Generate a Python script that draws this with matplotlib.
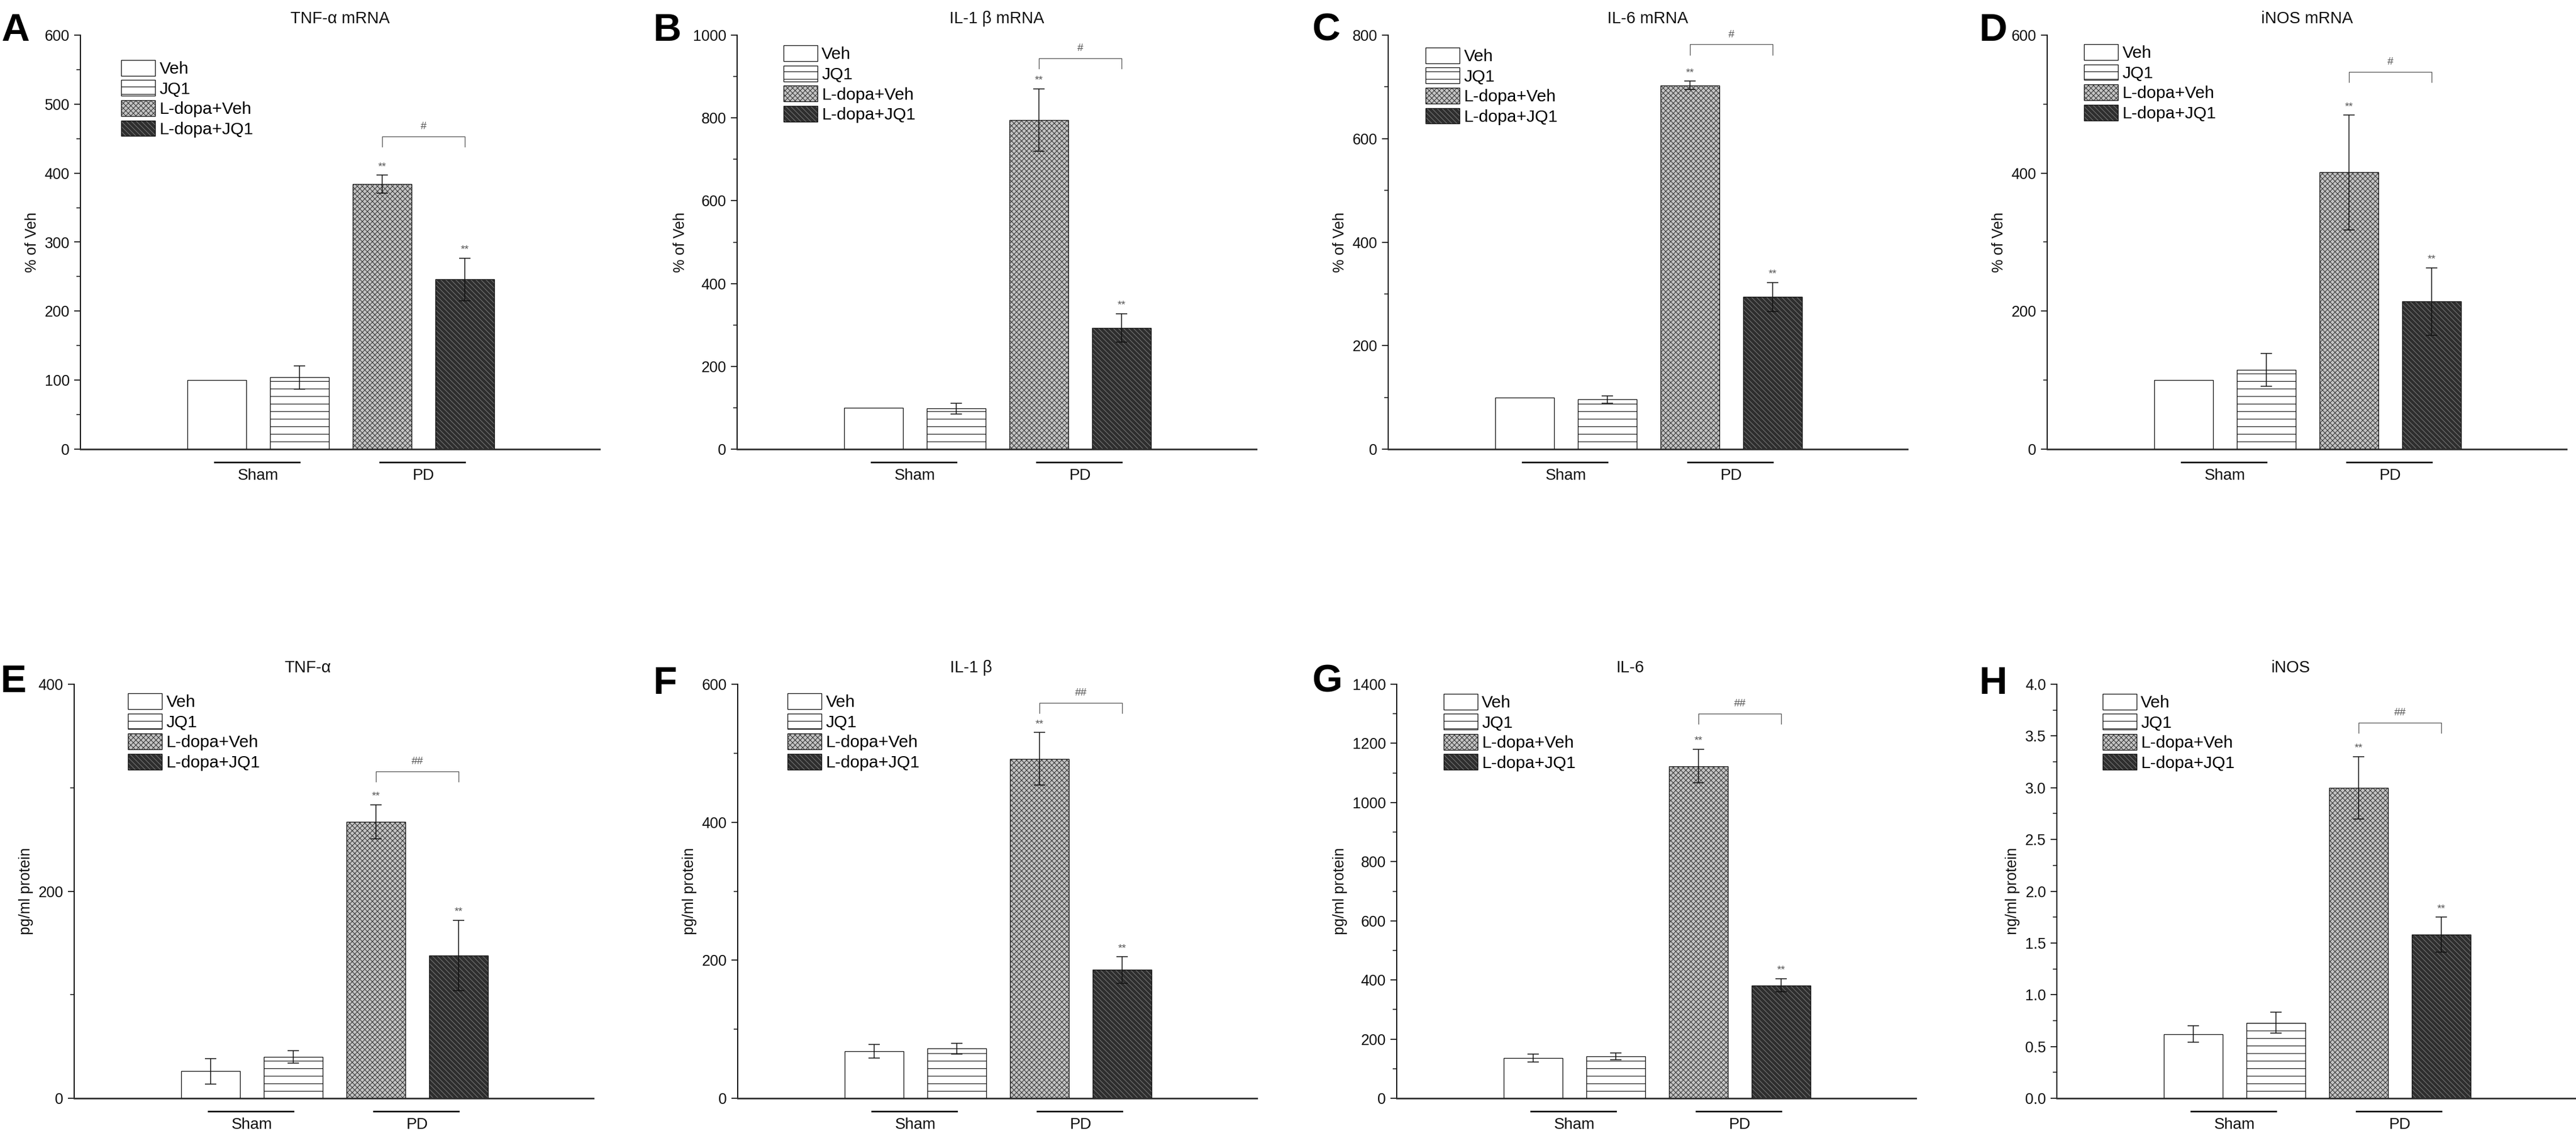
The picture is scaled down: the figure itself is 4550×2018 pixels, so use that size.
import numpy as np
import matplotlib.pyplot as plt
from matplotlib.patches import Patch
from matplotlib.ticker import MultipleLocator, FormatStrFormatter

plt.rcParams['font.family'] = ['Liberation Sans', 'DejaVu Sans']
plt.rcParams['hatch.linewidth'] = 1.0

groups = ['Veh', 'JQ1', 'L-dopa+Veh', 'L-dopa+JQ1']
sets = ['Sham', 'PD']

# mean and error (A..H)
tnf_mrna = [100, 104, 384, 246]
tnf_mrna_err = [0, 17, 13, 31]
il1b_mrna = [100, 98, 795, 293]
il1b_mrna_err = [0, 13, 75, 34]
il6_mrna = [100, 96, 703, 294]
il6_mrna_err = [0, 7, 8, 28]
inos_mrna = [100, 115, 401, 214]
inos_mrna_err = [0, 24, 83, 49]
tnf_prot = [26, 40, 267, 138]
tnf_prot_err = [12.5, 6, 16.5, 34]
il1b_prot = [68, 72, 492, 186]
il1b_prot_err = [10, 8, 38, 19]
il6_prot = [136, 142, 1123, 382]
il6_prot_err = [14, 12, 57, 22]
inos_prot = [0.62, 0.73, 3.0, 1.58]
inos_prot_err = [0.08, 0.10, 0.30, 0.17]

letters = ['A', 'B', 'C', 'D', 'E', 'F', 'G', 'H']
titles = ['TNF-α mRNA', 'IL-1 β mRNA', 'IL-6 mRNA', 'iNOS mRNA',
          'TNF-α', 'IL-1 β', 'IL-6', 'iNOS']
ylabels = ['% of Veh'] * 4 + ['pg/ml protein'] * 3 + ['ng/ml protein']
ymax = [600, 1000, 800, 600, 400, 600, 1400, 4.0]
ymajor = [100, 200, 200, 200, 200, 200, 200, 0.5]
sig_y = [453, 944, 782, 547, 316, 573, 1300, 3.63]
sig_txt = ['#'] * 4 + ['##'] * 4

means = [tnf_mrna, il1b_mrna, il6_mrna, inos_mrna, tnf_prot, il1b_prot, il6_prot, inos_prot]
errs = [tnf_mrna_err, il1b_mrna_err, il6_mrna_err, inos_mrna_err,
        tnf_prot_err, il1b_prot_err, il6_prot_err, inos_prot_err]

# layout in pixels of the 4550x2018 image
W, H = 4550, 2018
lefts = [142, 1302, 2452, 3616, 131, 1303, 2467, 3633]
tops = [62, 62, 62, 62, 1208, 1208, 1208, 1208]
axw, axh = 917, 731
letter_xy = [(2, 22), (1153, 22), (2317, 22), (3495, 22),
             (0, 1172), (1153, 1175), (2317, 1172), (3495, 1175)]
leg_xy = [(0.079, 0.94), (0.089, 0.975), (0.072, 0.97), (0.071, 0.978),
          (0.104, 0.978), (0.096, 0.978), (0.09, 0.977), (0.088, 0.977)]

styles = [
    dict(facecolor='white', edgecolor='black', hatch=None),
    dict(facecolor='white', edgecolor='black', hatch='-'),
    dict(facecolor='#c4c4c4', edgecolor='#3a3a3a', hatch='xxx'),
    dict(facecolor='#2e2e2e', edgecolor='#767676', hatch='\\\\\\'),
]

fig = plt.figure(figsize=(W / 80, H / 80), dpi=80)
x = np.arange(4)
bw = 0.71

for k in range(8):
    ax = fig.add_axes([lefts[k] / W, 1 - (tops[k] + axh) / H, axw / W, axh / H])
    m = means[k]
    e = errs[k]
    top = ymax[k]
    for i in range(4):
        st = styles[i]
        ax.bar(x[i], m[i], bw, color=st['facecolor'], edgecolor=st['edgecolor'],
               hatch=st['hatch'], linewidth=0, zorder=2)
        ax.bar(x[i], m[i], bw, fill=False, edgecolor='#111111', linewidth=1.2, zorder=3)
    for i in range(4):
        if e[i] > 0:
            ax.errorbar(x[i], m[i], yerr=e[i], fmt='none', ecolor='#111111',
                        elinewidth=1.4, capsize=9, capthick=1.4, zorder=4)
    # significance stars
    for i in [2, 3]:
        ax.text(x[i], m[i] + e[i] + 0.02 * top, '**', ha='center', va='center',
                fontsize=17, color='#555555')
    # bracket between L-dopa groups
    leg = 0.025 * top
    ax.plot([x[2], x[2], x[3], x[3]], [sig_y[k] - leg, sig_y[k], sig_y[k], sig_y[k] - leg],
            color='#555555', lw=1.2, clip_on=False)
    ax.text((x[2] + x[3]) / 2, sig_y[k] + 0.012 * top, sig_txt[k], ha='center', va='bottom',
            fontsize=17, color='#555555')

    # group underline and labels
    xt = ax.get_xaxis_transform()
    for j, (lo, hi) in enumerate([(0, 1), (2, 3)]):
        ax.plot([x[lo] - 0.03, x[hi]], [-0.032, -0.032], transform=xt, clip_on=False,
                color='#111111', lw=2.5)
        ax.text((x[lo] + x[hi]) / 2, -0.064, sets[j], transform=xt, ha='center', va='center',
                fontsize=25, color='#111111')

    ax.set_xlim(-1.65, 4.63)
    ax.set_ylim(0, top)
    ax.set_xticks([])
    ax.yaxis.set_major_locator(MultipleLocator(ymajor[k]))
    ax.yaxis.set_minor_locator(MultipleLocator(ymajor[k] / 2))
    if top < 10:
        ax.yaxis.set_major_formatter(FormatStrFormatter('%.1f'))
    ax.tick_params(axis='y', which='major', direction='out', length=10, width=1.6,
                   labelsize=24, pad=7, colors='#111111')
    ax.tick_params(axis='y', which='minor', direction='out', length=6, width=1.4,
                   colors='#111111')
    for s in ['top', 'right']:
        ax.spines[s].set_visible(False)
    ax.spines['left'].set_linewidth(1.8)
    ax.spines['left'].set_color('#111111')
    ax.spines['bottom'].set_linewidth(2.6)
    ax.spines['bottom'].set_color('#333333')
    ax.set_ylabel(ylabels[k], fontsize=24, labelpad=8, color='#111111')
    ax.set_title(titles[k], fontsize=26, pad=19, x=0.5 if k < 4 else 0.45, color='#111111')

    handles = [(Patch(facecolor=st['facecolor'], edgecolor=st['edgecolor'], hatch=st['hatch'],
                      linewidth=0),
                Patch(fill=False, edgecolor='#111111', linewidth=1.2)) for st in styles]
    ax.legend(handles, groups, loc='upper left', bbox_to_anchor=leg_xy[k], frameon=False,
              fontsize=27, borderpad=0, borderaxespad=0, handlelength=2.0,
              handleheight=1.05, handletextpad=0.25, labelspacing=0.18)

    lx, ly = letter_xy[k]
    fig.text(lx / W, 1 - ly / H, letters[k], fontsize=62, fontweight='bold',
             ha='left', va='top', color='black')

fig.savefig('out.png', dpi=80)
